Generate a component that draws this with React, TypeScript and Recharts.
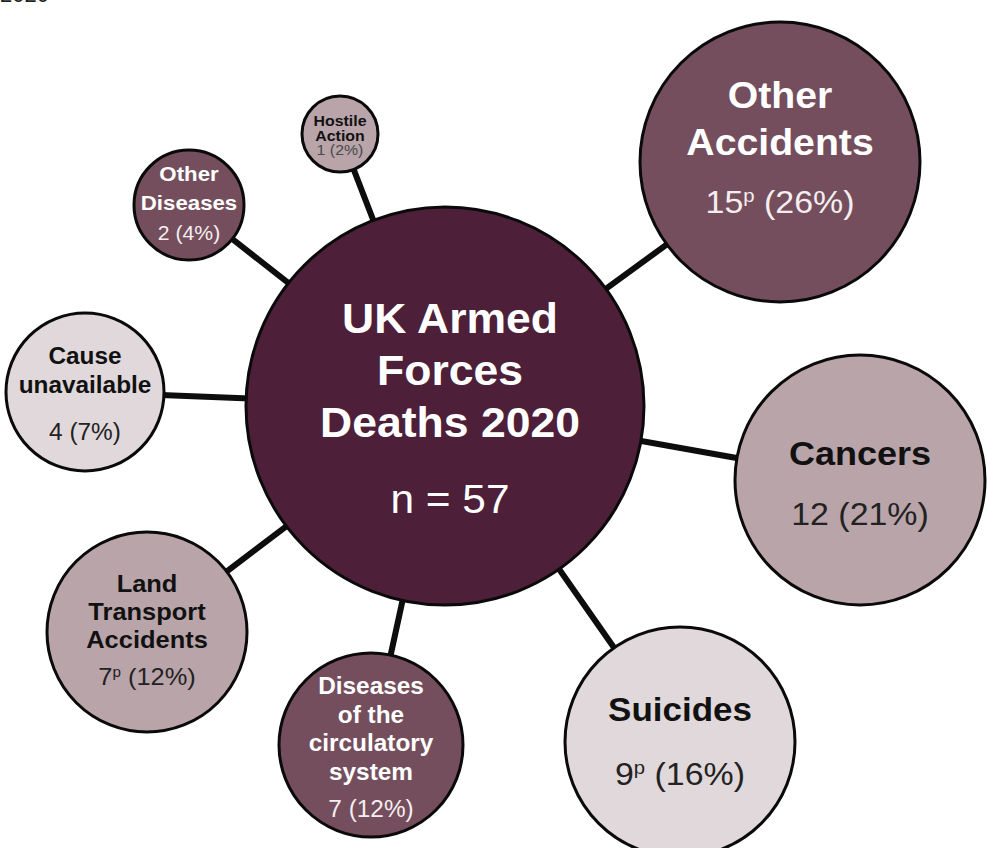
import { ScatterChart, Scatter, XAxis, YAxis } from 'recharts';

// bubbles: hub first, then the causes of death
const bubbleIds = ['hub', 'otherAccidents', 'cancers', 'suicides', 'circulatory', 'landTransport', 'causeUnavailable', 'otherDiseases', 'hostileAction'];
const titleLines = [
  ['UK Armed', 'Forces', 'Deaths 2020'],
  ['Other', 'Accidents'],
  ['Cancers'],
  ['Suicides'],
  ['Diseases', 'of the', 'circulatory', 'system'],
  ['Land', 'Transport', 'Accidents'],
  ['Cause', 'unavailable'],
  ['Other', 'Diseases'],
  ['Hostile', 'Action'],
];
const deaths = [57, 15, 12, 9, 7, 7, 4, 2, 1];
const percents = [null, 26, 21, 16, 12, 12, 7, 4, 2];
const provisional = [false, true, false, true, false, true, false, false, false];

// bubble layout in chart units (domain 0..987 x 0..848)
const layoutX = [445, 780, 860, 680, 371, 147, 85, 189, 340];
const layoutY = [406, 162, 480, 742, 745, 632, 392, 205, 134];
const layoutR = [199, 140, 125, 115, 92, 100, 79, 55, 38];

const W = 987;
const H = 848;

const tones: Record<string, { fill: string; title: string; value: string }> = {
  hub: { fill: '#4d1f39', title: '#ffffff', value: '#ffffff' },
  dark: { fill: '#744e5c', title: '#ffffff', value: '#f4eef0' },
  mid: { fill: '#b9a4aa', title: '#111111', value: '#222222' },
  light: { fill: '#e0d8da', title: '#111111', value: '#222222' },
};
const toneOf = ['hub', 'dark', 'mid', 'light', 'dark', 'mid', 'light', 'dark', 'mid'];

// text sizes: title font, value font, first baseline (from centre), line height, gap to value line, x nudge
const textStyle = [
  { t: 42, v: 40, top: -73, lh: 52, gap: 76, dx: 5 },
  { t: 37, v: 32, top: -54, lh: 47, gap: 58, dx: 0 },
  { t: 34, v: 32, top: -15, lh: 40, gap: 60, dx: 0 },
  { t: 33, v: 32, top: -21, lh: 40, gap: 64, dx: 0 },
  { t: 23, v: 23, top: -51, lh: 28.7, gap: 37, dx: 0 },
  { t: 24, v: 24, top: -40, lh: 28, gap: 37, dx: 0 },
  { t: 23, v: 23, top: -28, lh: 29, gap: 47, dx: 0 },
  { t: 21, v: 20, top: -24, lh: 29, gap: 30, dx: 0 },
  { t: 15, v: 15, top: -8, lh: 14.5, gap: 15, dx: 0 },
];

const FONT = '"Liberation Sans", Arial, Helvetica, sans-serif';

const bubbles = bubbleIds.map((id, i) => ({
  id,
  idx: i,
  x: layoutX[i],
  y: layoutY[i],
  r: layoutR[i],
}));

// hub -> satellite -> hub -> satellite ... so one joint line draws the spokes
const spokes = bubbles.slice(1).flatMap((b) => [bubbles[0], b]);

const Bubble = (props: any) => {
  const { cx, cy, payload } = props;
  const i = payload.idx;
  const tone = tones[toneOf[i]];
  const st = textStyle[i];
  const lines = titleLines[i];
  const valueY = st.top + (lines.length - 1) * st.lh + st.gap;
  const hostile = payload.id === 'hostileAction';
  return (
    <g>
      <circle cx={cx} cy={cy} r={payload.r} fill={tone.fill} stroke="#0a0a0a" strokeWidth={3} />
      <g transform={`translate(${cx + st.dx},${cy}) scale(1.06,1)`} fontFamily={FONT} textAnchor="middle">
        {lines.map((ln, k) => (
          <text key={k} x={0} y={st.top + k * st.lh} fontSize={st.t} fontWeight="bold" fill={tone.title}>
            {ln}
          </text>
        ))}
        <text x={0} y={valueY} fontSize={st.v} fill={hostile ? '#4a4a4a' : tone.value}>
          {i === 0 ? (
            `n = ${deaths[i]}`
          ) : (
            <>
              {String(deaths[i])}
              {provisional[i] && (
                <>
                  <tspan fontSize={st.v * 0.6} dy={-st.v * 0.34}>p</tspan>
                  <tspan dy={st.v * 0.34}>{` (${percents[i]}%)`}</tspan>
                </>
              )}
              {!provisional[i] && ` (${percents[i]}%)`}
            </>
          )}
        </text>
      </g>
    </g>
  );
};

export default function App() {
  return (
    <div style={{ position: 'absolute', left: 0, top: 0, width: W, height: H, background: '#fff', overflow: 'hidden' }}>
      <ScatterChart width={W} height={H} margin={{ top: 0, right: 0, bottom: 0, left: 0 }}>
        <XAxis type="number" dataKey="x" domain={[0, W]} hide />
        <YAxis type="number" dataKey="y" domain={[0, H]} reversed hide />
        <Scatter
          data={spokes}
          line={{ stroke: '#0d0d0d', strokeWidth: 6 }}
          lineType="joint"
          shape={() => <g />}
          isAnimationActive={false}
        />
        <Scatter data={bubbles} shape={Bubble} isAnimationActive={false} />
      </ScatterChart>
      <div style={{ position: 'absolute', left: 0, top: -17, fontFamily: FONT, fontSize: 22, fontWeight: 'normal', color: '#222', lineHeight: '24px' }}>
        2020
      </div>
    </div>
  );
}
